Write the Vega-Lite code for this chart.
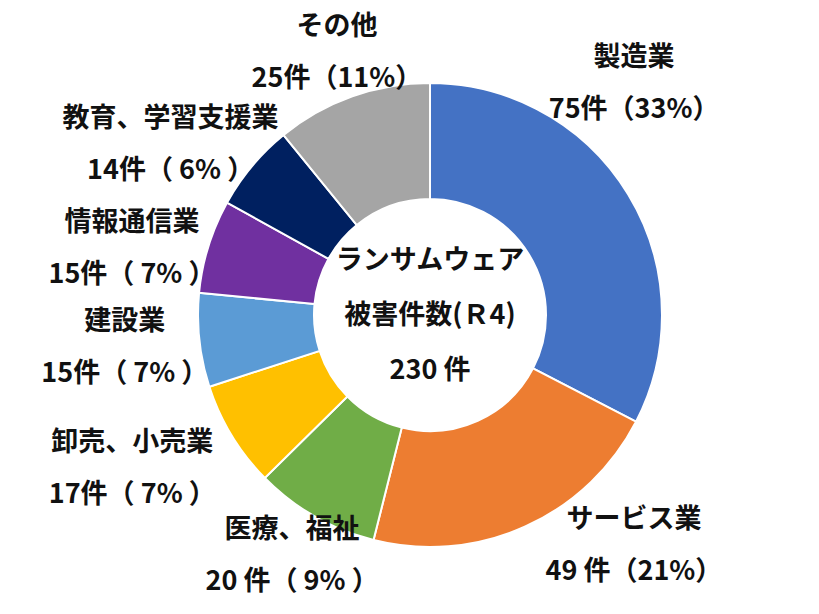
{
  "$schema": "https://vega.github.io/schema/vega-lite/v6.json",
  "width": 778,
  "height": 598,
  "autosize": {"type": "none"},
  "padding": {"left": 41, "top": 16, "right": 0, "bottom": 0},
  "background": "white",
  "config": {
    "view": {"stroke": null},
    "font": "Noto Sans CJK JP",
    "text": {"fontSize": 27, "fontWeight": "bold", "lineHeight": 52, "align": "center", "baseline": "middle", "color": "#111111"}
  },
  "data": {
    "values": [
      {"idx": 1, "category": "製造業", "count": 75, "label": "75件（33%）"},
      {"idx": 2, "category": "サービス業", "count": 49, "label": "49 件（21%）"},
      {"idx": 3, "category": "医療、福祉", "count": 20, "label": "20 件（ 9% ）"},
      {"idx": 4, "category": "卸売、小売業", "count": 17, "label": "17件（ 7% ）"},
      {"idx": 5, "category": "建設業", "count": 15, "label": "15件（ 7% ）"},
      {"idx": 6, "category": "情報通信業", "count": 15, "label": "15件（ 7% ）"},
      {"idx": 7, "category": "教育、学習支援業", "count": 14, "label": "14件（ 6% ）"},
      {"idx": 8, "category": "その他", "count": 25, "label": "25件（11%）"}
    ]
  },
  "transform": [{"calculate": "[datum.category, datum.label]", "as": "lines"}],
  "encoding": {
    "theta": {"field": "count", "type": "quantitative", "stack": true},
    "order": {"field": "idx", "type": "quantitative"}
  },
  "layer": [
    {
      "mark": {"type": "arc", "outerRadius": 232, "innerRadius": 116, "stroke": "white", "strokeWidth": 2},
      "encoding": {
        "color": {
          "field": "category",
          "type": "nominal",
          "legend": null,
          "scale": {
            "domain": ["製造業", "サービス業", "医療、福祉", "卸売、小売業", "建設業", "情報通信業", "教育、学習支援業", "その他"],
            "range": ["#4472C4", "#ED7D31", "#70AD47", "#FFC000", "#5B9BD5", "#7030A0", "#002060", "#A5A5A5"]
          }
        }
      }
    },
    {
      "mark": {"type": "text", "radius": 308, "thetaOffset": -0.3, "dy": -26},
      "encoding": {"text": {"condition": {"test": "datum.idx <= 2", "field": "lines"}, "value": ""}}
    },
    {
      "mark": {"type": "text", "radius": 278, "dy": -26},
      "encoding": {"text": {"condition": {"test": "datum.idx == 3 || datum.idx == 8", "field": "lines"}, "value": ""}}
    },
    {
      "mark": {"type": "text", "radius": 335, "thetaOffset": 0.07, "dy": -26},
      "encoding": {"text": {"condition": {"test": "datum.idx == 4", "field": "lines"}, "value": ""}}
    },
    {
      "mark": {"type": "text", "radius": 307, "dy": -26},
      "encoding": {"text": {"condition": {"test": "datum.idx == 5", "field": "lines"}, "value": ""}}
    },
    {
      "mark": {"type": "text", "radius": 312, "dy": 0},
      "encoding": {"text": {"condition": {"test": "datum.idx == 6", "field": "lines"}, "value": ""}}
    },
    {
      "mark": {"type": "text", "radius": 325, "thetaOffset": -0.05, "dy": 0},
      "encoding": {"text": {"condition": {"test": "datum.idx == 7", "field": "lines"}, "value": ""}}
    },
    {
      "data": {"values": [{"center": ["ランサムウェア", "被害件数(Ｒ4)", "230 件"]}]},
      "mark": {"type": "text", "dy": -54, "lineHeight": 55},
      "encoding": {"text": {"field": "center"}, "theta": null, "order": null}
    }
  ]
}
